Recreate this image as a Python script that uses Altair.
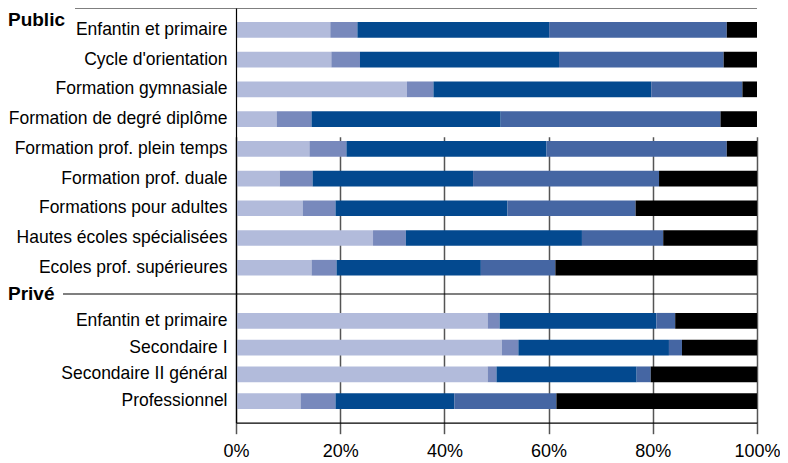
import altair as alt
import pandas as pd

FONT = "Liberation Sans"

series = ["Série 1", "Série 2", "Série 3", "Série 4", "Série 5"]
colors = ["#B2BBDB", "#7889BC", "#03498F", "#4566A3", "#000000"]

pub_cats = [
    "Enfantin et primaire",
    "Cycle d'orientation",
    "Formation gymnasiale",
    "Formation de degré diplôme",
    "Formation prof. plein temps",
    "Formation prof. duale",
    "Formations pour adultes",
    "Hautes écoles spécialisées",
    "Ecoles prof. supérieures",
]
pub_s1 = [18.1, 18.3, 32.8, 7.8, 14.1, 8.4, 12.8, 26.3, 14.5]
pub_s2 = [5.2, 5.5, 5.1, 6.7, 7.1, 6.3, 6.3, 6.3, 4.8]
pub_s3 = [36.8, 38.2, 41.8, 36.3, 38.4, 30.8, 33.0, 33.8, 27.7]
pub_s4 = [34.1, 31.6, 17.5, 42.2, 34.6, 35.7, 24.6, 15.6, 14.3]
pub_s5 = [5.8, 6.4, 2.8, 7.0, 5.8, 18.8, 23.3, 18.0, 38.7]

priv_cats = [
    "Enfantin et primaire",
    "Secondaire I",
    "Secondaire II général",
    "Professionnel",
]
priv_s1 = [48.3, 51.0, 48.3, 12.4]
priv_s2 = [2.3, 3.2, 1.7, 6.7]
priv_s3 = [30.1, 28.9, 26.9, 22.8]
priv_s4 = [3.6, 2.5, 2.7, 19.6]
priv_s5 = [15.7, 14.4, 20.4, 38.5]

tick_values = [0, 0.2, 0.4, 0.6, 0.8, 1.0]


def long_df(cats, cols, field):
    rows = []
    for i, c in enumerate(cats):
        for k, (name, col) in enumerate(zip(series, cols)):
            rows.append({field: c, "series": name, "idx": k, "val": col[i]})
    return pd.DataFrame(rows)


df_pub = long_df(pub_cats, [pub_s1, pub_s2, pub_s3, pub_s4, pub_s5], "cat_pub")
df_priv = long_df(priv_cats, [priv_s1, priv_s2, priv_s3, priv_s4, priv_s5], "cat_priv")

LEFT = 228
W = 521
RIGHT = 23
H_PUB = 286
H_ALL = 414.7


def y_axis():
    return alt.Axis(
        orient="left", title=None, ticks=False, domain=True,
        domainColor="#000000", domainWidth=1.2,
        labelFont=FONT, labelFontSize=17.5, labelColor="#000000",
        labelPadding=9, labelLimit=400, zindex=1,
    )


def x_axis():
    return alt.Axis(
        values=tick_values, format=".0%", title=None, grid=True,
        gridColor="#555555", gridWidth=1.5,
        ticks=True, tickSize=11, tickColor="#555555", tickWidth=1.5,
        domain=True, domainColor="#000000", domainWidth=1.2,
        labelFont=FONT, labelFontSize=18, labelColor="#000000",
        labelPadding=9, labelFlush=False, labelOverlap=False,
    )


color_enc = alt.Color("series:N", scale=alt.Scale(domain=series, range=colors), legend=None)

x_enc = alt.X("val:Q", stack="normalize",
              scale=alt.Scale(domain=[0, 1], nice=False), axis=x_axis())

bars_pub = alt.Chart(df_pub).mark_bar().encode(
    y=alt.Y("cat_pub:N", sort=pub_cats,
            scale=alt.Scale(range=[0, H_PUB], paddingInner=0.472,
                            paddingOuter=0.545, align=0.432),
            axis=y_axis()),
    x=x_enc,
    color=color_enc,
    order=alt.Order("idx:Q"),
)

bars_priv = alt.Chart(df_priv).mark_bar().encode(
    y=alt.Y("cat_priv:N", sort=priv_cats,
            scale=alt.Scale(range=[H_PUB, H_ALL], paddingInner=0.412,
                            paddingOuter=0.61, align=0.58),
            axis=y_axis()),
    x=x_enc,
    color=color_enc,
    order=alt.Order("idx:Q"),
)

headers = ["Public", "Privé"]
header_df = pd.DataFrame({"h": headers})

rule_pub = alt.Chart(header_df.iloc[[0]]).mark_rule(color="#000000", strokeWidth=1.2).encode(
    x=alt.value(-161), x2=alt.value(W), y=alt.value(0)
)
rule_priv = alt.Chart(header_df.iloc[[1]]).mark_rule(color="#000000", strokeWidth=1.2).encode(
    x=alt.value(-173), x2=alt.value(W), y=alt.value(H_PUB)
)
text_style = dict(align="left", font=FONT, fontSize=19,
                  fontWeight="bold", color="#000000")
text_pub = alt.Chart(header_df.iloc[[0]]).mark_text(baseline="alphabetic", **text_style).encode(
    x=alt.value(-LEFT), y=alt.value(18), text="h:N"
)
text_priv = alt.Chart(header_df.iloc[[1]]).mark_text(baseline="middle", **text_style).encode(
    x=alt.value(-LEFT), y=alt.value(H_PUB), text="h:N"
)

chart = (
    alt.layer(bars_pub, bars_priv, rule_pub, rule_priv, text_pub, text_priv)
    .resolve_scale(y="independent")
    .resolve_axis(y="independent")
    .properties(
        width=W, height=H_ALL,
        autosize=alt.AutoSizeParams(type="none"),
        padding={"left": LEFT, "top": 0, "right": RIGHT, "bottom": 42},
    )
    .configure_view(stroke=None)
)

chart.save("out.html", embed_options={"renderer": "svg", "actions": False})
